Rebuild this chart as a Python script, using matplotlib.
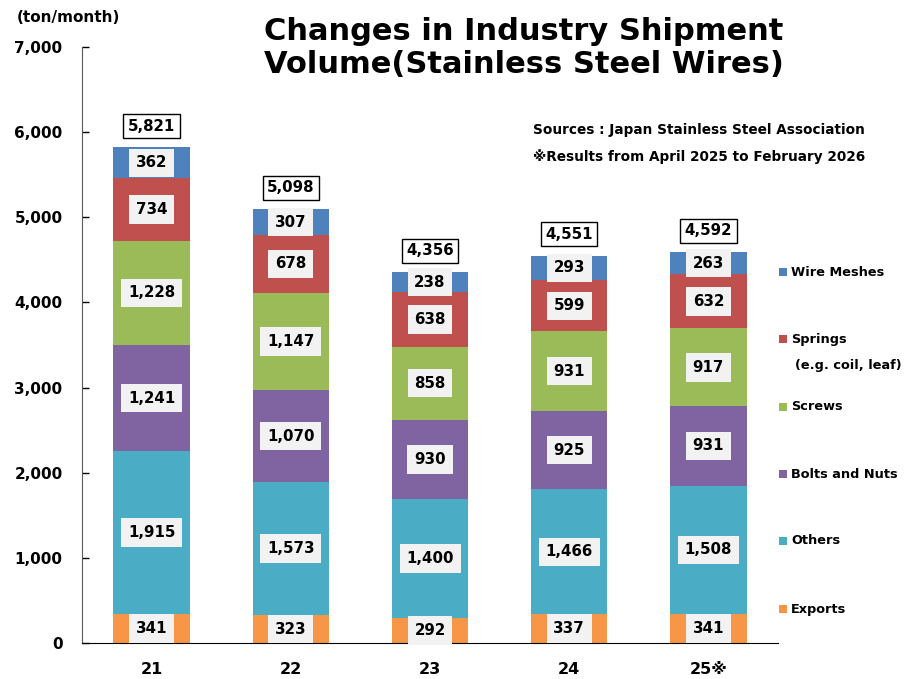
import matplotlib
matplotlib.use('Agg')
from matplotlib import pyplot as plt
from matplotlib.patches import Rectangle
import numpy as np

plt.rcParams['font.family'] = ['DejaVu Sans', 'Noto Sans CJK JP']
plt.rcParams['font.weight'] = 'bold'

years = ['21', '22', '23', '24', '25※']
series = ['Exports', 'Others', 'Bolts and Nuts', 'Screws', 'Springs', 'Wire Meshes']
exports = [341, 323, 292, 337, 341]
others = [1915, 1573, 1400, 1466, 1508]
bolts = [1241, 1070, 930, 925, 931]
screws = [1228, 1147, 858, 931, 917]
springs = [734, 678, 638, 599, 632]
meshes = [362, 307, 238, 293, 263]
colors = ['#F79646', '#4BACC6', '#8064A2', '#9BBB59', '#C0504D', '#4F81BD']

data = [exports, others, bolts, screws, springs, meshes]

fig = plt.figure(figsize=(9.08, 6.79), dpi=100)
ax = fig.add_axes([82 / 908, 36 / 679, 696 / 908, 596 / 679])

x = np.arange(len(years))
bottom = np.zeros(len(years))
for vals, col in zip(data, colors):
    vals = np.array(vals)
    ax.bar(x, vals, 0.55, bottom=bottom, color=col, edgecolor='none')
    for xi, b, v in zip(x, bottom, vals):
        ax.text(xi, b + v / 2, f'{v:,}', ha='center', va='center', fontsize=10.8,
                fontweight='bold',
                bbox=dict(boxstyle='square,pad=0.45', facecolor='#F2F2F2', edgecolor='none'))
    bottom += vals

for xi, t in zip(x, bottom):
    ax.text(xi, t + 250, f'{int(t):,}', ha='center', va='center', fontsize=10.8,
            fontweight='bold',
            bbox=dict(boxstyle='square,pad=0.3', facecolor='white', edgecolor='black', linewidth=1))

ax.set_xlim(-0.5, 4.5)
ax.set_ylim(0, 7000)
ax.set_yticks(range(0, 7001, 1000))
ax.set_yticklabels([f'{v:,}' for v in range(0, 7001, 1000)])
ax.set_xticks(x)
ax.set_xticklabels(years)
ax.tick_params(axis='y', direction='in', length=5, width=1, pad=14, labelsize=11)
ax.tick_params(axis='x', length=0, pad=14, labelsize=11.5)
for lab in ax.get_xticklabels() + ax.get_yticklabels():
    lab.set_fontweight('bold')
ax.spines['top'].set_visible(False)
ax.spines['right'].set_visible(False)
ax.spines['left'].set_color('#595959')
ax.spines['bottom'].set_color('black')

fig.text(17 / 908, 1 - 17 / 679, '(ton/month)', fontsize=11, fontweight='bold', va='center')
fig.text(524 / 908, 1 - 48 / 679, 'Changes in Industry Shipment\nVolume(Stainless Steel Wires)',
         ha='center', va='center', fontsize=22, fontweight='bold', linespacing=1.2)
fig.text(533 / 908, 1 - 130 / 679, 'Sources : Japan Stainless Steel Association',
         fontsize=9.8, fontweight='bold', va='center')
fig.text(533 / 908, 1 - 157 / 679, '※Results from April 2025 to February 2026',
         fontsize=9.8, fontweight='bold', va='center')

# legend on the right, top entry first
leg_y = [609, 541, 474, 407, 339, 272]
for name, col, yy in zip(series, colors, leg_y):
    fig.add_artist(Rectangle((779 / 908, 1 - (yy + 4) / 679), 8 / 908, 8 / 679,
                             transform=fig.transFigure, facecolor=col, edgecolor='none'))
    fig.text(791 / 908, 1 - yy / 679, name, fontsize=9.3, fontweight='bold', va='center')
fig.text(795 / 908, 1 - 366 / 679, '(e.g. coil, leaf)', fontsize=9.3, fontweight='bold', va='center')

fig.savefig('out.png', dpi=100)
